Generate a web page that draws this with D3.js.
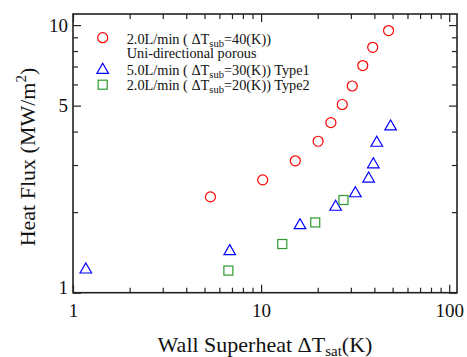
<!DOCTYPE html>
<html>
<head>
<meta charset="utf-8">
<script src="https://cdn.jsdelivr.net/npm/d3@7"></script>
<style>
  body { margin:0; background:#fff; }
  text { font-family:"Liberation Serif","DejaVu Serif",serif; fill:#111; }
</style>
</head>
<body>
<div id="container"></div>
<script>
// Wall superheat (K) vs heat flux (MW/m2)
const porousX  = [5.38,10.2,15.2,20.1,23.5,27.0,30.5,34.7,39.2,47.6];
const porousY  = [2.28,2.64,3.11,3.68,4.32,5.05,5.92,7.06,8.26,9.54];
const type1X   = [1.17,6.81,16.1,24.9,31.7,37.3,39.5,41.2,48.8];
const type1Y   = [1.23,1.44,1.80,2.11,2.37,2.69,3.04,3.66,4.21];
const type2X   = [6.70,12.96,19.4,27.4];
const type2Y   = [1.21,1.52,1.83,2.22];
const xMajor = [1,10,100], yMajor = [1,5,10];
const xMinor = [2,3,4,5,6,7,8,9,20,30,40,50,60,70,80,90];
const yMinor = [2,3,4,6,7,8,9];

const width = 467, height = 357;
const pL = 73, pR = 457, pT = 14, pB = 292.7;

const svg = d3.select("#container")
  .append("svg")
    .attr("width",width)
    .attr("height",height);

const x = d3.scaleLog().domain([1,110]).range([pL,pR]);
const y = d3.scaleLog().domain([1,11]).range([pB,pT]);

function axisGroup(axis, tx, ty, labels) {
  const g = svg.append('g')
    .attr('transform','translate('+tx+','+ty+')')
    .call(axis);
  g.select('.domain').remove();
  g.selectAll('line').attr('stroke','#222').attr('stroke-width',1.2);
  if(!labels) g.selectAll('text').remove();
  else g.selectAll('text').attr('font-size',19).attr('fill','#111');
  return g;
}

// bottom
axisGroup(d3.axisBottom(x).tickValues(xMajor).tickSize(-8).tickPadding(11).tickFormat(d3.format('d')),0,pB,true);
axisGroup(d3.axisBottom(x).tickValues(xMinor).tickSize(-5),0,pB,false);
// top
axisGroup(d3.axisTop(x).tickValues(xMajor).tickSize(-8),0,pT,false);
axisGroup(d3.axisTop(x).tickValues(xMinor).tickSize(-5),0,pT,false);
// left
const gl = axisGroup(d3.axisLeft(y).tickValues(yMajor).tickSize(-8).tickPadding(5).tickFormat(d3.format('d')),pL,0,true);
gl.selectAll('text').filter(d=>d===1).attr('dy','0.05em');
axisGroup(d3.axisLeft(y).tickValues(yMinor).tickSize(-5),pL,0,false);
// right
axisGroup(d3.axisRight(y).tickValues(yMajor).tickSize(-8),pR,0,false);
axisGroup(d3.axisRight(y).tickValues(yMinor).tickSize(-5),pR,0,false);

svg.append('rect')
  .attr('x',pL).attr('y',pT)
  .attr('width',pR-pL).attr('height',pB-pT)
  .attr('fill','none')
  .attr('stroke','#222')
  .attr('stroke-width',1.6);

// markers
const tri = d3.symbol().type(d3.symbolTriangle).size(58);
svg.append('g')
    .attr('fill','none').attr('stroke','#ff0000').attr('stroke-width',1.2)
  .selectAll('circle')
    .data(porousX.map((v,i)=>[v,porousY[i]]))
    .join('circle')
      .attr('cx',d=>x(d[0])).attr('cy',d=>y(d[1])).attr('r',5);

svg.append('g')
    .attr('fill','none').attr('stroke','#0000ff').attr('stroke-width',1.2)
  .selectAll('path')
    .data(type1X.map((v,i)=>[v,type1Y[i]]))
    .join('path')
      .attr('d',tri)
      .attr('transform',d=>'translate('+x(d[0])+','+(y(d[1])+1)+')');

svg.append('g')
    .attr('fill','none').attr('stroke','#2e9a2e').attr('stroke-width',1.2)
  .selectAll('rect')
    .data(type2X.map((v,i)=>[v,type2Y[i]]))
    .join('rect')
      .attr('x',d=>x(d[0])-4.5).attr('y',d=>y(d[1])-4.5)
      .attr('width',9).attr('height',9);

// legend
const lg = svg.append('g');
lg.append('circle').attr('cx',102.7).attr('cy',37.7).attr('r',5)
  .attr('fill','none').attr('stroke','#ff0000').attr('stroke-width',1.2);
lg.append('path').attr('d',tri).attr('transform','translate(102.7,70)')
  .attr('fill','none').attr('stroke','#0000ff').attr('stroke-width',1.2);
lg.append('rect').attr('x',98.2).attr('y',80.2).attr('width',9).attr('height',9)
  .attr('fill','none').attr('stroke','#2e9a2e').attr('stroke-width',1.2);

const legendRows = [
  {y:43.5, pre:'2.0L/min ( \u0394T', post:'=40(K))'},
  {y:75, pre:'5.0L/min ( \u0394T', post:'=30(K)) Type1'},
  {y:89.5, pre:'2.0L/min ( \u0394T', post:'=20(K)) Type2'}
];
legendRows.forEach(r=>{
  const t = lg.append('text').attr('x',126.7).attr('y',r.y).attr('font-size',14.3);
  t.append('tspan').text(r.pre);
  t.append('tspan').attr('font-size',10.5).attr('dy',3).text('sub');
  t.append('tspan').attr('dy',-3).text(r.post);
});
lg.append('text').attr('x',126.7).attr('y',57.5).attr('font-size',14.3).text('Uni-directional porous');

// axis titles
const xt = svg.append('text')
  .attr('x',(pL+pR)/2).attr('y',351.5)
  .attr('text-anchor','middle').attr('font-size',22);
xt.append('tspan').text('Wall Superheat \u0394T');
xt.append('tspan').attr('font-size',15).attr('dy',4).text('sat');
xt.append('tspan').attr('dy',-4).text('(K)');

const yt = svg.append('text')
  .attr('transform','translate(35,157) rotate(-90)')
  .attr('text-anchor','middle').attr('font-size',22);
yt.append('tspan').text('Heat Flux (MW/m');
yt.append('tspan').attr('font-size',15).attr('dy',-9).text('2');
yt.append('tspan').attr('dy',9).text(')');
</script>
</body>
</html>
